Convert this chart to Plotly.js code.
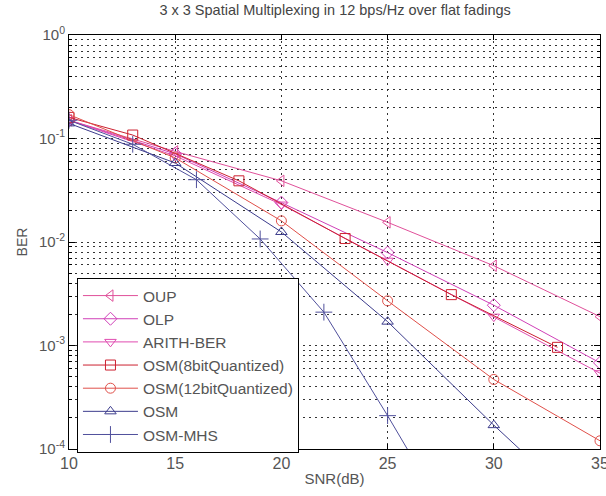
<!DOCTYPE html>
<html><head><meta charset="utf-8">
<script src="https://cdn.plot.ly/plotly-3.0.1.min.js"></script>
<style>body{margin:0;background:#fff}#c{width:606px;height:496px}</style>
</head><body><div id="c"></div>
<script>
const names = ["OUP","OLP","ARITH-BER","OSM(8bitQuantized)","OSM(12bitQuantized)","OSM","OSM-MHS"];
const x5 = [10,15,20,25,30,35];
const xSquare = [10,13,18,23,28,33];
const xMhs = [10,13,16,19,22,25,28];
const yOUP = [0.15,0.075,0.039,0.0155,0.0059,0.0019];
const yOLP = [0.15,0.071,0.024,0.0079,0.00245,0.00068];
const yARITH = [0.15,0.068,0.023,0.0066,0.0019,0.00054];
const y8bit = [0.16,0.108,0.039,0.0108,0.0031,0.00096];
const y12bit = [0.17,0.065,0.016,0.0027,0.00047,0.00012];
const yOSM = [0.14,0.058,0.0125,0.0017,0.00017,0.000019];
const yMHS = [0.15,0.088,0.040,0.0107,0.0021,0.00021,0.000019];
const yTickVals = [1e-4,1e-3,1e-2,1e-1,1];
const yTickText = ["10<sup>-4</sup>","10<sup>-3</sup>","10<sup>-2</sup>","10<sup>-1</sup>","10<sup>0</sup>"];
const xTickVals = [10,15,20,25,30,35];
const xTickText = ["10","15","20","25","30","35"];

const colors = ["#e0509a","#d040b8","#e04cb0","#cc2030","#e0504a","#3c3c8c","#50509c"];
const symbols = ["triangle-left-open","diamond-open","triangle-down-open","square-open","circle-open","triangle-up-open","cross-thin-open"];
const xs = [x5,x5,x5,xSquare,x5,x5,xMhs];
const ys = [yOUP,yOLP,yARITH,y8bit,y12bit,yOSM,yMHS];

const minor = [];
for (let e=-4;e<0;e++) for (let m=2;m<=9;m++) minor.push(m*Math.pow(10,e));

const traces = names.map((n,i)=>({
  x: xs[i], y: ys[i], name: n, type:'scatter', mode:'lines+markers',
  line:{color:colors[i], width:1},
  marker:{symbol:symbols[i], size: i===6?12:10, color:colors[i], line:{color:colors[i], width:1}},
  cliponaxis:true
}));

const dot = '2px,4px';
const layout = {
  width:606, height:496,
  margin:{l:69, r:6, t:35, b:47},
  paper_bgcolor:'#fff', plot_bgcolor:'#fff',
  font:{family:'"Liberation Sans", Arial, sans-serif', color:'#555', size:15},
  title:{text:'3 x 3 Spatial Multiplexing in 12 bps/Hz over flat fadings', font:{size:14.5, color:'#444'}, x:0.553, xanchor:'center', y:0.99, yanchor:'top'},
  xaxis:{range:[10,35], tickvals:xTickVals, ticktext:xTickText, ticks:'inside', ticklen:5, tickcolor:'#000',
    showline:true, linecolor:'#000', linewidth:1, mirror:'ticks', ticklabeloverflow:'allow', ticklabelstandoff:0,
    showgrid:true, gridcolor:'#333', griddash:dot, gridwidth:1, zeroline:false, automargin:false,
    title:{text:'SNR(dB)', font:{size:15}, standoff:2}, tickfont:{size:16}},
  yaxis:{type:'log', range:[-4,0], tickvals:yTickVals, ticktext:yTickText, ticks:'inside', ticklen:6, tickcolor:'#000',
    showline:true, linecolor:'#000', linewidth:1, mirror:'ticks',
    showgrid:true, gridcolor:'#333', griddash:dot, gridwidth:1, zeroline:false,
    minor:{tickvals:minor, ticks:'inside', ticklen:3, tickcolor:'#000', showgrid:true, gridcolor:'#333', griddash:dot, gridwidth:1},
    title:{text:'BER', font:{size:14}, standoff:8}, tickfont:{size:15}},
  legend:{x:0.015, y:0.413, xanchor:'left', yanchor:'top', bgcolor:'#fff', bordercolor:'#000', borderwidth:1,
    font:{size:15.5, color:'#555'}, itemwidth:55, tracegroupgap:0},
  showlegend:true
};
Plotly.newPlot('c', traces, layout, {displayModeBar:false, staticPlot:true});
</script></body></html>
